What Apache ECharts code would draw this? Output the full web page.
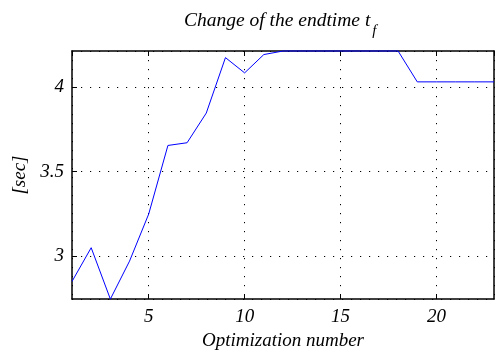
<!DOCTYPE html>
<html>
<head>
<meta charset="utf-8">
<script src="https://cdn.jsdelivr.net/npm/echarts@6/dist/echarts.min.js"></script>
<style>
  html, body { margin: 0; padding: 0; background: #fff; }
  #chart { width: 497px; height: 355px; }
</style>
</head>
<body>
<div id="chart"></div>
<script>
// Optimization run index and the resulting end time t_f (seconds)
const iterations = [1, 2, 3, 4, 5, 6, 7, 8, 9, 10, 11, 12, 13, 14, 15, 16, 17, 18, 19, 20, 21, 22, 23];
const endTimes = [2.852, 3.051, 2.748, 2.972, 3.250, 3.654, 3.670, 3.845, 4.172, 4.082, 4.190,
                  4.211, 4.211, 4.211, 4.211, 4.211, 4.211, 4.211,
                  4.029, 4.029, 4.029, 4.029, 4.029];

const titleMain = 'Change of the endtime t';
const titleSub = 'f';
const xName = 'Optimization number';
const yName = '[sec]';

const FONT = '"Liberation Serif", "Times New Roman", serif';
const FS = 19;
const TITLE_FS = 19.5;
const SUB_FS = 15;

// measure the main title so the subscript can sit right after it
const ctx = document.createElement('canvas').getContext('2d');
ctx.font = 'italic ' + TITLE_FS + 'px ' + FONT;
const mainWidth = ctx.measureText(titleMain).width;
const titleLeft = 184;

const chart = echarts.init(document.getElementById('chart'), null, { renderer: 'canvas' });

const boxLine = { show: true, lineStyle: { color: '#000', width: 1.5 } };
const innerTick = { show: true, inside: true, length: 5, lineStyle: { color: '#000', width: 1 } };
const dotted = { show: true, lineStyle: { color: '#000', width: 1, type: [1.2, 7.8] } };
const labelStyle = { fontFamily: FONT, fontStyle: 'italic', fontSize: FS, color: '#000' };

const points = iterations.map((x, i) => [x, endTimes[i]]);

chart.setOption({
  animation: false,
  backgroundColor: '#fff',
  grid: { left: 72, right: 3, top: 51, bottom: 55, containLabel: false },
  graphic: [
    {
      type: 'text', x: titleLeft, y: 21, z: 10,
      style: { text: titleMain, fill: '#000', font: 'italic ' + TITLE_FS + 'px ' + FONT,
               align: 'left', verticalAlign: 'middle' }
    },
    {
      type: 'text', x: titleLeft + mainWidth + 2, y: 31, z: 10,
      style: { text: titleSub, fill: '#000', font: 'italic ' + SUB_FS + 'px ' + FONT,
               align: 'left', verticalAlign: 'middle' }
    }
  ],
  xAxis: [
    {
      type: 'value', position: 'bottom', min: 1, max: 23, splitNumber: 5,
      axisLine: boxLine, axisTick: innerTick, splitLine: dotted,
      axisLabel: Object.assign({ margin: 8, showMinLabel: false, showMaxLabel: false }, labelStyle),
      name: xName, nameLocation: 'middle', nameGap: 28,
      nameTextStyle: labelStyle
    },
    {
      type: 'value', position: 'top', min: 1, max: 23, splitNumber: 5,
      axisLine: boxLine, axisTick: innerTick, splitLine: { show: false },
      axisLabel: { show: false }
    }
  ],
  yAxis: [
    {
      type: 'value', position: 'left', min: 'dataMin', max: 'dataMax', splitNumber: 3,
      axisLine: boxLine, axisTick: innerTick, splitLine: dotted,
      axisLabel: Object.assign({ margin: 8, showMinLabel: false, showMaxLabel: false }, labelStyle),
      name: yName, nameLocation: 'middle', nameGap: 39,
      nameTextStyle: labelStyle
    },
    {
      type: 'value', position: 'right', min: 'dataMin', max: 'dataMax', splitNumber: 3,
      axisLine: boxLine, axisTick: innerTick, splitLine: { show: false },
      axisLabel: { show: false }
    }
  ],
  series: [
    {
      type: 'line', xAxisIndex: 0, yAxisIndex: 0,
      data: points, showSymbol: false, symbol: 'none',
      lineStyle: { color: '#0000ff', width: 1 },
      itemStyle: { color: '#0000ff' },
      clip: false
    }
  ]
});
</script>
</body>
</html>
